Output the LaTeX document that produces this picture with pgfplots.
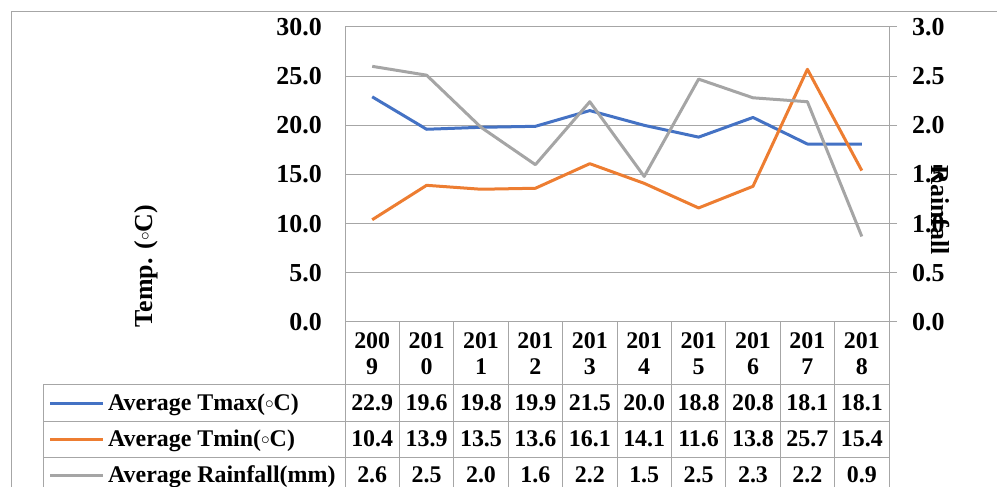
\documentclass[border=0pt]{standalone}
\usepackage{fontspec}
\setmainfont{Liberation Serif}
\usepackage{pgfplots}
\pgfplotsset{compat=1.18}
\definecolor{cmax}{HTML}{4472C4}
\definecolor{cmin}{HTML}{ED7D31}
\definecolor{crain}{HTML}{A5A5A5}
\definecolor{linec}{HTML}{A6A6A6}
\newcommand{\tf}{\bfseries\fontsize{24}{28}\selectfont}
\newcommand{\lf}{\bfseries\fontsize{26}{30}\selectfont}
\newcommand{\dg}{\raisebox{0.1em}{$\scriptstyle\circ$}}
\begin{document}
\begin{tikzpicture}
\path[use as bounding box] (0,0) rectangle (997bp,487bp);
\clip (0,0) rectangle (997bp,487bp);
\begin{scope}[x=1bp,y=-1bp,yshift=487bp]
  % outer chart border
  \draw[linec, line width=1bp] (11,12) rectangle (1010,510);
  % table grid
  \foreach \yy in {385,422,458} \draw[linec, line width=1bp] (43,\yy) -- (889,\yy);
  \draw[linec, line width=1bp] (43,385) -- (43,490);
  \foreach \i in {0,...,10} \draw[linec, line width=1bp] ({345+54.4*\i},322) -- ({345+54.4*\i},490);
  % year labels
  \foreach \a/\b [count=\i from 0] in {200/9,201/0,201/1,201/2,201/3,201/4,201/5,201/6,201/7,201/8} {
    \node[anchor=base, inner sep=0pt, font=\tf] at ({372.2+54.4*\i},349) {\a};
    \node[anchor=base, inner sep=0pt, font=\tf] at ({372.2+54.4*\i},375) {\b};
  }
  % legend keys and series names
  \draw[cmax, line width=3bp] (50,404) -- (103,404);
  \draw[cmin, line width=3bp] (50,440) -- (103,440);
  \draw[crain, line width=3bp] (50,476) -- (103,476);
  \node[anchor=base west, inner sep=0pt, font=\tf] at (108,411) {Average Tmax(\dg C)};
  \node[anchor=base west, inner sep=0pt, font=\tf] at (108,447) {Average Tmin(\dg C)};
  \node[anchor=base west, inner sep=0pt, font=\tf] at (108,483) {Average Rainfall(mm)};
  % table values
  \foreach \v [count=\i from 0] in {22.9,19.6,19.8,19.9,21.5,20.0,18.8,20.8,18.1,18.1}
    \node[anchor=base, inner sep=0pt, font=\tf] at ({372.2+54.4*\i},411) {\v};
  \foreach \v [count=\i from 0] in {10.4,13.9,13.5,13.6,16.1,14.1,11.6,13.8,25.7,15.4}
    \node[anchor=base, inner sep=0pt, font=\tf] at ({372.2+54.4*\i},447) {\v};
  \foreach \v [count=\i from 0] in {2.6,2.5,2.0,1.6,2.2,1.5,2.5,2.3,2.2,0.9}
    \node[anchor=base, inner sep=0pt, font=\tf] at ({372.2+54.4*\i},483) {\v};
  % axis titles
  \node[rotate=90, inner sep=0pt, font=\lf] at (146,266) {Temp. (\dg C)};
  \node[rotate=-90, inner sep=0pt, font=\lf] at (940,210) {Rainfall};
\end{scope}
\begin{axis}[
  at={(345bp,165bp)}, anchor=south west, scale only axis,
  width=544bp, height=295bp,
  xmin=-0.5, xmax=9.5, ymin=0, ymax=30,
  xtick=\empty, ytick={0,5,10,15,20,25,30},
  ymajorgrids, grid style={linec, line width=1bp},
  axis line style={linec, line width=1bp},
  major tick length=0pt,
  yticklabel style={font=\lf, anchor=east, inner sep=0pt, xshift=-23bp},
  /pgf/number format/fixed, /pgf/number format/fixed zerofill,
  /pgf/number format/precision=1, /pgf/number format/assume math mode=true,
]
\addplot[cmax, line width=3bp, line join=round] coordinates {
 (0,22.9) (1,19.6) (2,19.8) (3,19.9) (4,21.5) (5,20.0) (6,18.8) (7,20.8) (8,18.1) (9,18.1)};
\addplot[cmin, line width=3bp, line join=round] coordinates {
 (0,10.4) (1,13.9) (2,13.5) (3,13.6) (4,16.1) (5,14.1) (6,11.6) (7,13.8) (8,25.7) (9,15.4)};
\end{axis}
\begin{axis}[
  at={(345bp,165bp)}, anchor=south west, scale only axis,
  width=544bp, height=295bp,
  xmin=-0.5, xmax=9.5, ymin=0, ymax=3,
  hide x axis, axis y line*=right,
  ytick={0,0.5,1,1.5,2,2.5,3},
  axis line style={linec, line width=1bp, -},
  tick align=outside, major tick length=8bp,
  every tick/.style={linec, line width=1bp},
  yticklabel style={font=\lf, anchor=west, inner sep=0pt, xshift=15bp},
  /pgf/number format/fixed, /pgf/number format/fixed zerofill,
  /pgf/number format/precision=1, /pgf/number format/assume math mode=true,
]
\addplot[crain, line width=3bp, line join=round] coordinates {
 (0,2.60) (1,2.51) (2,1.98) (3,1.60) (4,2.24) (5,1.48) (6,2.47) (7,2.28) (8,2.24) (9,0.87)};
\end{axis}
\end{tikzpicture}
\end{document}
